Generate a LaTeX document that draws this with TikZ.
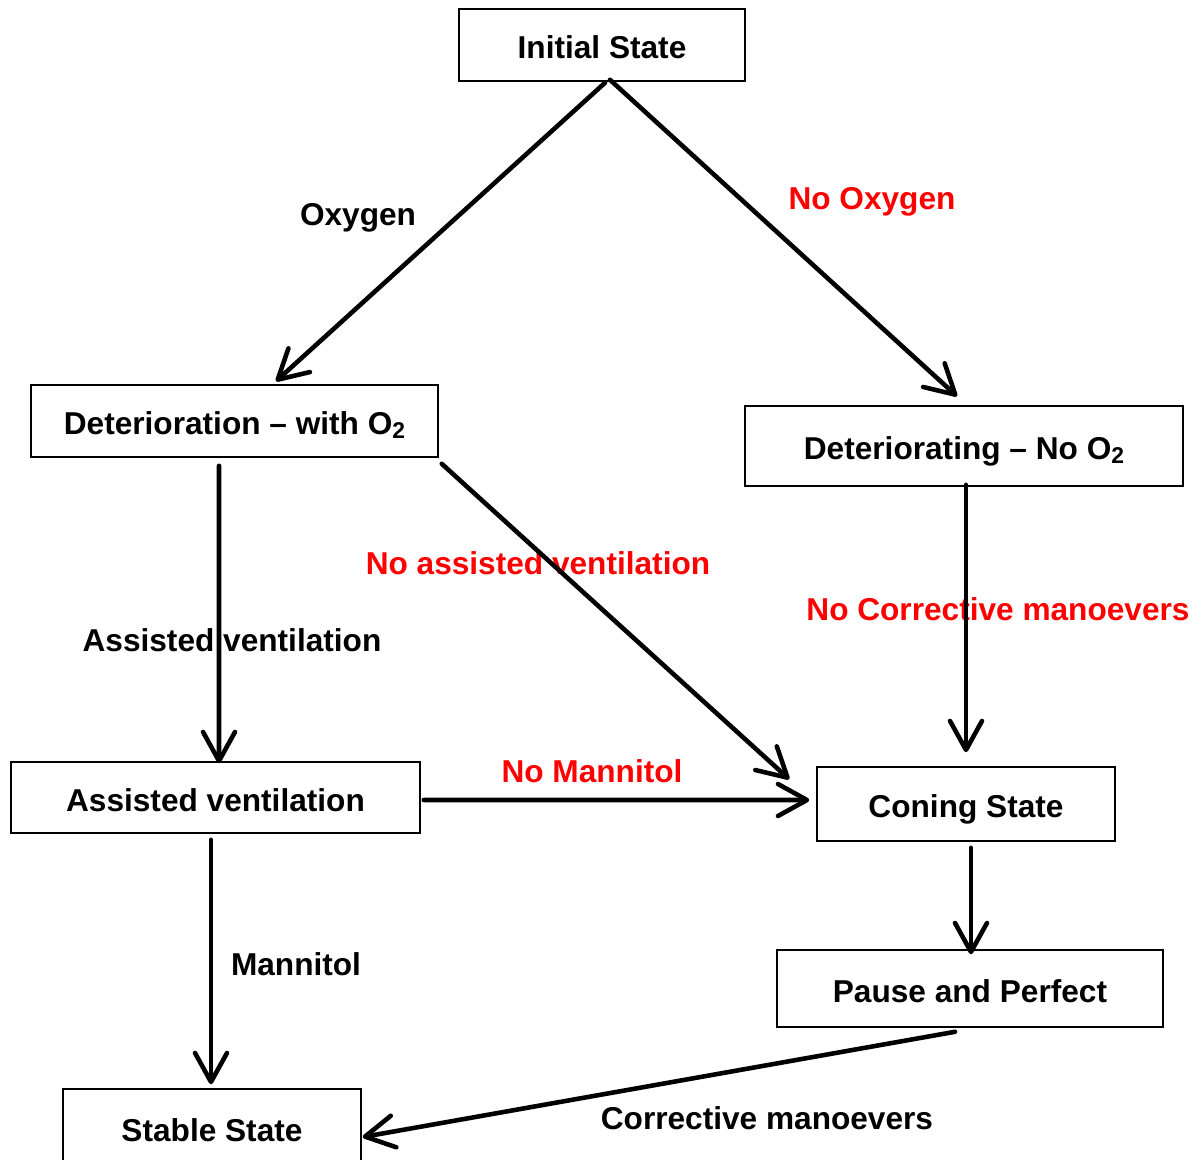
\documentclass[tikz,border=0pt]{standalone}
\usepackage{fontspec}
\setmainfont{Liberation Sans}
\usetikzlibrary{arrows.meta,calc}
\definecolor{lblred}{RGB}{255,0,0}
\newcommand{\Osub}{O\raisebox{-0.12em}{\fontsize{13}{13}\selectfont 2}}
\begin{document}
\begin{tikzpicture}[x=0.02cm,y=-0.02cm,
  every node/.style={font=\fontsize{18}{21.6}\selectfont\bfseries, inner sep=0pt,
    text height=15.5pt, text depth=0pt},
  box/.style={draw=black, line width=0.9pt, fill=white},
  lbl/.style={text=black},
  rlbl/.style={text=lblred},
  arr/.style={line width=2.6pt, line cap=round,
    -{Straight Barb[length=0.58cm,width=0.64cm,line cap=round,line join=round]}}
]
\useasboundingbox (0,0) rectangle (1201,1160);
% boxes
\node[box, minimum width=5.72cm, minimum height=1.44cm] (init) at (602,45) {Initial State};
\node[box, minimum width=8.14cm, minimum height=1.44cm] (detw) at (234.5,421) {Deterioration -- with \Osub};
\node[box, minimum width=8.76cm, minimum height=1.6cm] (detn) at (964,446) {Deteriorating -- No \Osub};
\node[box, minimum width=8.18cm, minimum height=1.42cm] (assist) at (215.5,797.5) {Assisted ventilation};
\node[box, minimum width=5.96cm, minimum height=1.48cm] (coning) at (966,804) {Coning State};
\node[box, minimum width=7.72cm, minimum height=1.54cm] (pause) at (970,988.5) {Pause and Perfect};
\node[box, minimum width=5.96cm, minimum height=1.56cm] (stable) at (212,1128) {Stable State};
% labels
\node[lbl] (lOxy) at (358,212) {Oxygen};
\node[rlbl] (lNoOxy) at (872,196) {No Oxygen};
\node[rlbl] (lNoAss) at (538,561) {No assisted ventilation};
\node[lbl] (lAss) at (232,638) {Assisted ventilation};
\node[rlbl] (lNoCorr) at (998,607) {No Corrective manoevers};
\node[rlbl] (lNoMan) at (592,769) {No Mannitol};
\node[lbl] (lMan) at (296,962) {Mannitol};
\node[lbl] (lCorr) at (767,1116) {Corrective manoevers};
% connectors
\draw[arr] ($(init.south)+(3,1)$) -- ($(detw.north)+(41.5,-3)$);
\draw[arr] ($(init.south)+(8,-2)$) -- ($(detn.north)+(-7,-9)$);
\draw[arr] ($(detw.south)+(-15.5,8)$) -- ($(assist.north)+(3.5,2)$);
\draw[arr] ($(detw.south east)+(3,6)$) -- ($(coning.north west)+(-27,13)$);
\draw[arr] ($(detn.south)+(2,-2)$) -- ($(coning.north)+(0,-14)$);
\draw[arr] ($(assist.east)+(3,2.5)$) -- ($(coning.west)+(-7,-4)$);
\draw[arr] ($(coning.south)+(5,6)$) -- ($(pause.north)+(1,5)$);
\draw[arr] ($(assist.south)+(-4.5,6)$) -- ($(stable.north)+(-1,-4)$);
\draw[arr] ($(pause.south)+(-15,4)$) -- ($(stable.east)+(1,9)$);
\end{tikzpicture}
\end{document}
